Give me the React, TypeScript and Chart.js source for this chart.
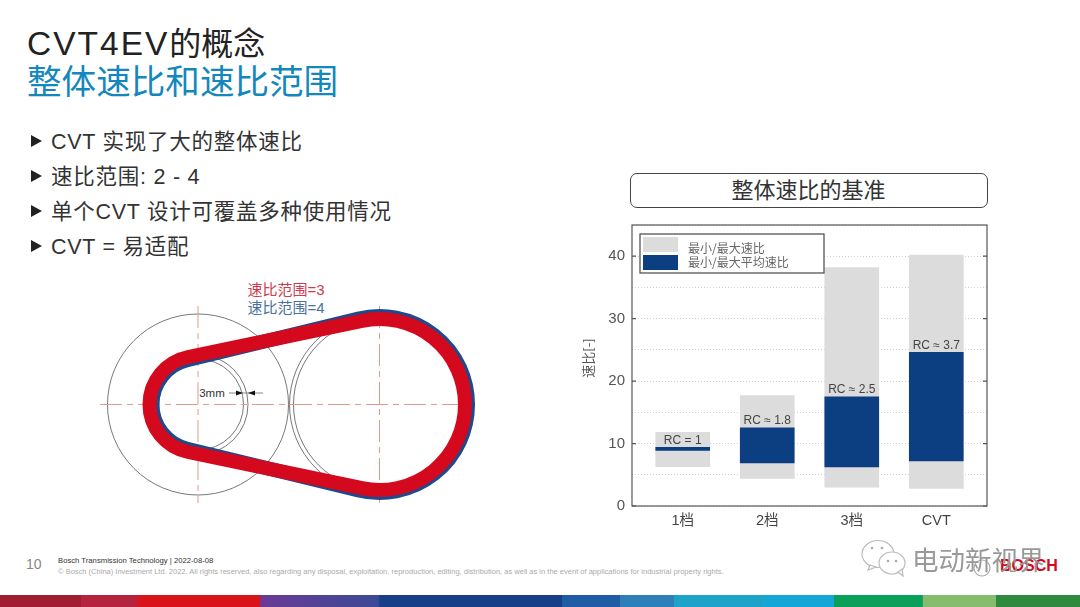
import React, { useEffect, useRef } from "react";
import { Chart, registerables } from "chart.js";

Chart.register(...registerables);

const categories = ["1档", "2档", "3档", "CVT"];
const positions = [1, 2, 3, 4];
const totalLow = [6.3, 4.4, 3.0, 2.8];
const totalHigh = [11.8, 17.7, 38.2, 40.2];
const meanLow = [8.9, 6.9, 6.25, 7.2];
const meanHigh = [9.4, 12.5, 17.5, 24.6];
const rcLabels = ["RC = 1", "RC ≈ 1.8", "RC ≈ 2.5", "RC ≈ 3.7"];
const legendLabels = ["最小/最大速比", "最小/最大平均速比"];
const yAxisLabel = "速比[-]";
const bullets = ["CVT 实现了大的整体速比", "速比范围: 2 - 4", "单个CVT 设计可覆盖多种使用情况", "CVT = 易适配"];

const SANS = '"Liberation Sans", "Noto Sans CJK SC", sans-serif';
const CJK = '"Noto Sans CJK SC", "Liberation Sans", sans-serif';
const GREY = "#dcdcdc";
const BLUE = "#0b3f82";

const frame = {
  id: "frame",
  afterDraw(chart: any) {
    const { ctx, chartArea: a, scales } = chart;
    ctx.save();
    ctx.strokeStyle = "#555";
    ctx.lineWidth = 1.2;
    ctx.strokeRect(a.left, a.top, a.right - a.left, a.bottom - a.top);
    [0, 10, 20, 30, 40].forEach((v) => {
      const y = scales.y.getPixelForValue(v);
      ctx.beginPath();
      ctx.moveTo(a.left, y);
      ctx.lineTo(a.left + 4, y);
      ctx.moveTo(a.right - 4, y);
      ctx.lineTo(a.right, y);
      ctx.stroke();
    });

    ctx.font = `12px ${SANS}`;
    ctx.fillStyle = "#444";
    ctx.textAlign = "center";
    ctx.textBaseline = "bottom";
    rcLabels.forEach((t, i) => {
      ctx.fillText(t, scales.x.getPixelForValue(positions[i]), scales.y.getPixelForValue(meanHigh[i]) - 1);
    });

    const lx = a.left + 8;
    const ly = a.top + 9;
    ctx.fillStyle = "#fff";
    ctx.fillRect(lx, ly, 184, 39);
    ctx.strokeStyle = "#555";
    ctx.lineWidth = 1.3;
    ctx.strokeRect(lx, ly, 184, 39);
    ctx.fillStyle = GREY;
    ctx.fillRect(lx + 3, ly + 3, 35, 15);
    ctx.fillStyle = BLUE;
    ctx.fillRect(lx + 3, ly + 21, 35, 15);
    ctx.font = `12px ${CJK}`;
    ctx.fillStyle = "#666";
    ctx.textAlign = "left";
    ctx.textBaseline = "middle";
    ctx.fillText(chart.data.datasets[0].label, lx + 48, ly + 14);
    ctx.fillText(chart.data.datasets[1].label, lx + 48, ly + 28);

    ctx.translate(18, 149);
    ctx.rotate(-Math.PI / 2);
    ctx.font = `13px ${CJK}`;
    ctx.fillStyle = "#555";
    ctx.textAlign = "center";
    ctx.fillText(yAxisLabel, 0, 0);
    ctx.restore();
  },
};

function hull(cl: number, cr: number, cy: number, rl: number, rr: number) {
  const d = cr - cl;
  const s = (rr - rl) / d;
  const c = Math.sqrt(1 - s * s);
  const p = (x: number, r: number, sign: number) => `${x - r * s} ${cy + sign * r * c}`;
  return `M ${p(cl, rl, -1)} L ${p(cr, rr, -1)} A ${rr} ${rr} 0 1 1 ${p(cr, rr, 1)} L ${p(cl, rl, 1)} A ${rl} ${rl} 0 0 1 ${p(cl, rl, -1)} Z`;
}

function Belt() {
  const cl = 198;
  const cr = 379.5;
  const cy = 404.5;
  const dash = "#e29a90";
  return (
    <svg width={1080} height={607} style={{ position: "absolute", left: 0, top: 0 }}>
      <g fill="none" stroke="#555" strokeWidth={0.8}>
        <circle cx={cl} cy={cy} r={90.5} />
        <circle cx={cl} cy={cy} r={45.5} />
        <circle cx={cl} cy={cy} r={50} />
        <circle cx={cr} cy={cy} r={90} />
        <circle cx={cr} cy={cy} r={86} />
      </g>
      <g stroke={dash} strokeWidth={1} strokeDasharray="22 5 6 5">
        <line x1={100} y1={cy} x2={478} y2={cy} />
        <line x1={cl} y1={306} x2={cl} y2={503} />
        <line x1={cr} y1={306} x2={cr} y2={503} />
      </g>
      <path d={hull(cl, cr, cy, 45.5, 88.5)} fill="none" stroke="#1d4a8c" strokeWidth={14} />
      <path d={hull(cl, cr, cy, 48.5, 85.5)} fill="none" stroke="#d5091e" strokeWidth={14} />
      <rect x={199} y={385} width={27} height={15} fill="#fff" />
      <text x={212} y={397} fontSize={11.5} fontFamily={SANS} fill="#333" textAnchor="middle">3mm</text>
      <line x1={229} y1={393} x2={263} y2={393} stroke="#888" strokeWidth={1} />
      <path d="M 243 393 L 236 390.5 L 236 395.5 Z" fill="#111" />
      <path d="M 248 393 L 255 390.5 L 255 395.5 Z" fill="#111" />
      <text x={286} y={295} fontSize={15} fontFamily={SANS} fill="#cf3a4e" textAnchor="middle">速比范围=3</text>
      <text x={286} y={313} fontSize={15} fontFamily={SANS} fill="#4a7199" textAnchor="middle">速比范围=4</text>
    </svg>
  );
}

const bandStops =
  "#a01e32 0, #a01e32 7.5%, #b5243f 7.5%, #b5243f 12.4%, #d8141a 13%, #d8141a 24%, #6a3a96 24.2%, #3b4a96 35%, #173f87 35.2%, #173f87 52%, #1f5ca6 52%, #1f5ca6 57.4%, #2e7fb8 57.4%, #2e7fb8 62.4%, #1ea3c8 62.4%, #1ea3c8 70.6%, #14a7d6 70.7%, #14a7d6 77.2%, #0aa05a 77.2%, #0aa05a 85.4%, #85bc6e 85.5%, #85bc6e 92.2%, #2e8b3e 92.2%, #2e8b3e 100%";

export default function App() {
  const ref = useRef<HTMLCanvasElement>(null);
  useEffect(() => {
    const chart = new Chart(ref.current!, {
      type: "bar",
      data: {
        datasets: [
          {
            label: legendLabels[0],
            data: positions.map((x, i) => ({ x, y: [totalLow[i], totalHigh[i]] })),
            backgroundColor: GREY,
            order: 2,
            grouped: false,
            barThickness: 54,
          },
          {
            label: legendLabels[1],
            data: positions.map((x, i) => ({ x, y: [meanLow[i], meanHigh[i]] })),
            backgroundColor: BLUE,
            order: 1,
            grouped: false,
            barThickness: 54,
          },
        ],
      } as any,
      options: {
        animation: false,
        responsive: false,
        layout: { padding: { top: 4, right: 13, left: 0, bottom: 0 } },
        plugins: { legend: { display: false }, tooltip: { enabled: false }, title: { display: false } },
        scales: {
          x: {
            type: "linear",
            offset: false,
            min: 0.4,
            max: 4.6,
            grid: { display: false },
            border: { display: false },
            afterBuildTicks: (s: any) => {
              s.ticks = positions.map((value) => ({ value }));
            },
            afterFit: (s: any) => {
              s.height = 34;
            },
            ticks: {
              autoSkip: false,
              maxRotation: 0,
              padding: -2,
              color: "#444",
              font: { size: 14.5, family: SANS },
              callback: (v: any) => categories[positions.indexOf(Number(v))] ?? "",
            },
          },
          y: {
            min: 0,
            max: 45,
            grid: { color: "#cfcfcf", lineWidth: 1, tickLength: 0 },
            border: { display: false, dash: [1, 2] },
            afterFit: (s: any) => {
              s.width = 62;
            },
            ticks: {
              stepSize: 5,
              padding: 7,
              color: "#555",
              font: { size: 15, family: SANS },
              callback: (v: any) => (Number(v) % 10 === 0 ? String(v) : ""),
            },
          },
        },
      },
      plugins: [frame],
    } as any);
    return () => chart.destroy();
  }, []);

  const text = (style: React.CSSProperties, children: React.ReactNode) => (
    <div style={{ position: "absolute", whiteSpace: "nowrap", fontFamily: SANS, ...style }}>{children}</div>
  );

  return (
    <div style={{ position: "absolute", left: 0, top: 0, width: 1080, height: 607, background: "#fff", overflow: "hidden" }}>
      {text({ left: 27, top: 22, fontSize: 32, lineHeight: "44px", color: "#222" }, <><span style={{ fontSize: 33.5, letterSpacing: 2 }}>CVT4EV</span>的概念</>)}
      {text({ left: 27, top: 60, fontSize: 34.6, lineHeight: "44px", color: "#1487bd" }, "整体速比和速比范围")}
      {bullets.map((b, i) => (
        <React.Fragment key={b}>
          <div style={{ position: "absolute", left: 31, top: 135 + i * 35, width: 0, height: 0, borderLeft: "11px solid #222", borderTop: "6px solid transparent", borderBottom: "6px solid transparent" }} />
          {text({ left: 51, top: 126 + i * 35, fontSize: 21.5, letterSpacing: 0.75, lineHeight: "32px", color: "#333" }, b)}
        </React.Fragment>
      ))}
      <Belt />
      <div style={{ position: "absolute", left: 630, top: 173, width: 356, height: 33, border: "1.3px solid #444", borderRadius: 7 }} />
      {text({ left: 630, width: 357, top: 173, textAlign: "center", fontSize: 22, lineHeight: "35px", color: "#333" }, "整体速比的基准")}
      <canvas ref={ref} width={430} height={331} style={{ position: "absolute", left: 570, top: 209, width: 430, height: 331 }} />
      {text({ left: 26, top: 556, fontSize: 14, lineHeight: "16px", color: "#888" }, "10")}
      {text({ left: 58, top: 556, fontSize: 7.7, lineHeight: "10px", color: "#333" }, "Bosch Transmission Technology  |  2022-08-08")}
      {text({ left: 58, top: 567, fontSize: 7.53, lineHeight: "10px", color: "#aaa" }, "© Bosch (China) Investment Ltd. 2022. All rights reserved, also regarding any disposal, exploitation, reproduction, editing, distribution, as well as in the event of applications for industrial property rights.")}
      {text({ left: 1000, top: 556, fontSize: 16, lineHeight: "20px", fontWeight: 700, color: "#d5091e" }, "BOSCH")}
      <svg width={60} height={50} style={{ position: "absolute", left: 860, top: 538 }}>
        <g fill="#fff" stroke="#bbb" strokeWidth={1.2}>
          <ellipse cx={18} cy={16} rx={16} ry={13.5} />
          <path d="M 10 27 L 8 32 L 16 29 Z" />
          <ellipse cx={32} cy={25} rx={13} ry={11} />
          <path d="M 38 34 L 43 38 L 42 31 Z" />
        </g>
        <g fill="#aaa">
          <circle cx={12} cy={10} r={1.3} />
          <circle cx={22} cy={10} r={1.3} />
          <circle cx={28} cy={23} r={1.3} />
          <circle cx={36} cy={23} r={1.3} />
        </g>
      </svg>
      <svg width={20} height={20} style={{ position: "absolute", left: 972, top: 558 }}>
        <circle cx={10} cy={10} r={8} fill="none" stroke="#aaa" strokeWidth={1.2} />
      </svg>
      {text({ left: 912, top: 542, fontSize: 26.5, lineHeight: "34px", color: "#999", fontFamily: CJK }, "电动新视界")}
      <div style={{ position: "absolute", left: 0, top: 595, width: 1080, height: 12, background: `linear-gradient(90deg, ${bandStops})` }} />
    </div>
  );
}
